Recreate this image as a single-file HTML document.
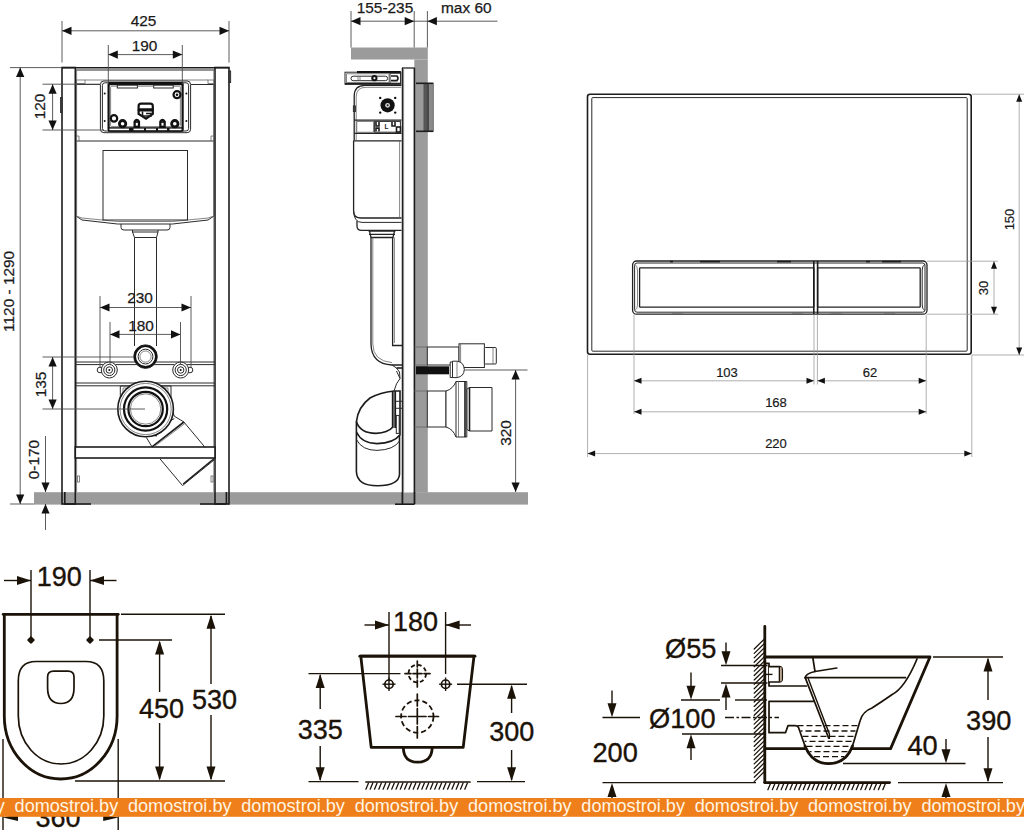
<!DOCTYPE html>
<html lang="en">
<head>
<meta charset="utf-8">
<title>Installation dimensions</title>
<style>
html,body{margin:0;padding:0;background:#fff;}
body{width:1024px;height:830px;overflow:hidden;font-family:"Liberation Sans",sans-serif;}
svg{display:block;}
.t{fill:none;stroke:#2a2a2a;stroke-width:1;}
.t2{fill:none;stroke:#1c1c1c;stroke-width:1.6;}
.t3{fill:none;stroke:#111;stroke-width:2.2;}
.tl{fill:none;stroke:#666;stroke-width:.8;}
.tm{fill:none;stroke:#222;stroke-width:1.3;}
.twm{fill:#fff;stroke:#222;stroke-width:1.3;}
.tw{fill:#fff;stroke:#2a2a2a;stroke-width:1;}
.tw2{fill:#fff;stroke:#1c1c1c;stroke-width:1.6;}
.d{fill:none;stroke:#4a4a4a;stroke-width:.9;}
.g{fill:none;stroke:#9a9a9a;stroke-width:.8;}
.gy{fill:#9b9b9b;stroke:none;}
.ah{fill:#111;stroke:none;}
.b{fill:none;stroke:#1b1208;stroke-width:2.8;stroke-linejoin:round;stroke-linecap:round;}
.b2{fill:none;stroke:#1b1208;stroke-width:1.7;stroke-linecap:round;stroke-linejoin:round;}
.b1{fill:none;stroke:#1b1208;stroke-width:1.4;}
.bd{fill:none;stroke:#1b1208;stroke-width:1.8;stroke-dasharray:5.2 2.9;}
.bf{fill:#1b1208;stroke:none;}
.n{font-family:"Liberation Sans",sans-serif;font-size:15.4px;fill:#1a1a1a;stroke:#1a1a1a;stroke-width:.25;}
.ns{font-family:"Liberation Sans",sans-serif;font-size:13px;fill:#1a1a1a;stroke:#1a1a1a;stroke-width:.2;}
.nb{font-family:"Liberation Sans",sans-serif;font-size:27px;fill:#1b1208;stroke:#1b1208;stroke-width:.35;}
.nm{font-family:"Liberation Sans",sans-serif;font-size:27.2px;fill:#1b1208;stroke:#1b1208;stroke-width:.35;}
.wm{font-family:"Liberation Sans",sans-serif;font-size:18.1px;fill:#fff5e4;}
</style>
</head>
<body>
<svg width="1024" height="830" viewBox="0 0 1024 830">
<rect x="0" y="0" width="1024" height="830" fill="#ffffff"/>
<g id="front-view">
<rect class="gy" x="34" y="492.2" width="494" height="12.4"/>
<path class="t" d="M76 84 V216 L82 220 L117.5 224 H172.5 L208 220 L214 216 V84"/>
<line class="t" x1="76" y1="141" x2="214" y2="141"/>
<line class="t" x1="76" y1="84.5" x2="100" y2="84.5"/>
<line class="t" x1="191" y1="84.5" x2="214" y2="84.5"/>
<line class="tl" x1="85" y1="80" x2="208" y2="80"/>
<path class="tl" d="M76 136 h3 v5 M214 136 h-3 v5"/>
<rect class="tl" x="76.5" y="80" width="8.5" height="3.5"/>
<rect class="tl" x="208" y="80" width="6" height="3.5"/>
<path class="tl" d="M76 216 L82 218 L117.5 221.5 H172.5 L208 218 L214 216"/>
<rect class="t" x="103" y="150.5" width="84.5" height="69.5"/>
<path class="t" d="M121 224 V227.5 Q121 230 124 230 H167 Q170 230 170 227.5 V224"/>
<path class="t" d="M132.5 230 V232 H158 V230 M132.5 232 L134.5 237.5 H156.5 L158 232"/>
<line class="t" x1="134.5" y1="237.5" x2="134.5" y2="346"/>
<line class="t" x1="156.5" y1="237.5" x2="156.5" y2="346"/>
<rect class="tw" x="100.4" y="81" width="90.2" height="51.7" rx="3.5"/>
<rect class="t" x="102.4" y="82.8" width="86.2" height="48.2" rx="2.5"/>
<rect class="t3" x="108.6" y="83.3" width="74" height="47.3" rx="1.5"/>
<rect class="ah" x="108" y="82" width="75.2" height="3.2"/>
<rect class="ah" x="108" y="127.2" width="75.2" height="4.4"/>
<rect class="gy" x="109.5" y="128.6" width="19.5" height="1.6" style="fill:#fff"/>
<rect class="gy" x="133.5" y="128.6" width="10.5" height="1.6" style="fill:#fff"/>
<rect class="gy" x="146" y="128.6" width="10" height="1.6" style="fill:#fff"/>
<rect class="gy" x="158" y="128.6" width="9" height="1.6" style="fill:#fff"/>
<rect class="gy" x="169.5" y="128.6" width="12" height="1.6" style="fill:#fff"/>
<rect class="tl" x="110.6" y="86.2" width="69.8" height="40.4" rx="1"/>
<rect class="tw" x="117.3" y="85.2" width="20.1" height="2.8"/>
<rect class="tw" x="153.7" y="85.2" width="19.5" height="2.8"/>
<circle class="ah" cx="104.7" cy="93.6" r="1"/>
<circle class="ah" cx="104.7" cy="121" r="1"/>
<circle class="ah" cx="186.4" cy="93.6" r="1"/>
<circle class="ah" cx="186.4" cy="121" r="1"/>
<circle class="t3" cx="177" cy="94.7" r="3.5"/>
<circle class="ah" cx="177" cy="94.7" r="1.3"/>
<circle class="t3" cx="114" cy="118.4" r="3.2"/>
<circle class="t3" cx="122.6" cy="123.7" r="3.2" style="stroke-width:2.8"/>
<circle class="t3" cx="174.8" cy="123.7" r="3.2" style="stroke-width:2.8"/>
<path class="t3" d="M134.6 127 v-5.5 q2.2 -3.4 4.4 0 v5.5 z" style="fill:#333"/>
<rect class="gy" x="135.8" y="123" width="2" height="2.6" style="fill:#fff"/>
<path class="t3" d="M160.3 127 v-5.5 q2.2 -3.4 4.4 0 v5.5 z" style="fill:#333"/>
<rect class="gy" x="161.5" y="123" width="2" height="2.6" style="fill:#fff"/>
<path class="t3" d="M138.6 114 V106 Q138.6 103.6 141 103.6 H150.4 Q152.8 103.6 152.8 106 V114 L146 118.6 Z" style="fill:#fff"/>
<rect class="ah" x="137.8" y="108.3" width="15.8" height="3.3" rx="1"/>
<path class="t2" d="M142.5 111.6 V116 H151 V113.5 H146"/>
<rect class="t2" x="62" y="67.5" width="13.3" height="436.5"/>
<rect class="t2" x="215" y="67.5" width="14" height="436.5"/>
<line class="t2" x1="62" y1="67.8" x2="229" y2="67.8"/>
<line class="t" x1="75.3" y1="70" x2="215" y2="70"/>
<line class="tl" x1="76.6" y1="70" x2="76.6" y2="492"/>
<line class="tl" x1="213.8" y1="70" x2="213.8" y2="492"/>
<rect class="t" x="229" y="71" width="1.6" height="11.5"/>
<rect class="t" x="60.6" y="97.5" width="1.4" height="15"/>
<line class="t" x1="75.3" y1="362" x2="215" y2="362"/>
<line class="t" x1="75.3" y1="364.6" x2="215" y2="364.6"/>
<line class="t" x1="75.3" y1="383" x2="215" y2="383"/>
<line class="t" x1="75.3" y1="385.8" x2="215" y2="385.8"/>
<rect class="tw2" x="75.3" y="447" width="139.7" height="11"/>
<path class="t" d="M166 392 L174.3 416.2 L183.9 422 L205.1 447.4"/>
<path class="t" d="M146.3 437.4 L152 446.8"/>
<path class="t2" d="M152 446.8 L183.9 422"/>
<path class="tl" d="M154 446.8 L185 423.4"/>
<path class="t" d="M156 436.6 Q160 425 174.3 418.5"/>
<path class="t" d="M159.8 458.6 L182.5 485.6 L214.8 459.4"/>
<path class="t2" d="M183.2 484 L213.6 459"/>
<path class="t" d="M120.3 409 V386 H171 V409"/>
<path class="tl" d="M123 400 V388 H168 V400"/>
<circle class="tw2" cx="145.6" cy="409" r="27.8"/>
<circle class="tl" cx="145.6" cy="409" r="25.6"/>
<circle class="t3" cx="145.6" cy="409" r="21.6"/>
<circle class="t3" cx="145.6" cy="409" r="17.2"/>
<circle class="tl" cx="145.6" cy="409" r="15.2"/>
<circle class="tw" cx="100" cy="370" r="2.8"/>
<circle class="tw" cx="109.3" cy="370" r="8"/>
<circle class="t" cx="109.3" cy="370" r="5.6"/>
<circle class="t" cx="109.3" cy="370" r="3.2"/>
<circle class="ah" cx="109.3" cy="370" r="1"/>
<circle class="tw" cx="190" cy="370" r="2.8"/>
<circle class="tw" cx="180.7" cy="370" r="8"/>
<circle class="t" cx="180.7" cy="370" r="5.6"/>
<circle class="t" cx="180.7" cy="370" r="3.2"/>
<circle class="ah" cx="180.7" cy="370" r="1"/>
<circle class="tw" cx="145.5" cy="356.6" r="11.8"/>
<circle class="t3" cx="145.5" cy="356.6" r="10.6"/>
<circle class="t" cx="145.5" cy="356.6" r="7.4"/>
<circle class="tl" cx="145.5" cy="356.6" r="5.6"/>
<line class="t2" x1="64" y1="504" x2="91" y2="504"/>
<line class="t2" x1="200" y1="504" x2="226" y2="504"/>
<path class="t2" d="M64.8 492 V504 M226.4 492 V504"/>
<rect class="tl" x="77.5" y="476" width="2" height="6"/>
<rect class="tl" x="211" y="476" width="2" height="6"/>
<line class="d" x1="62" y1="21" x2="62" y2="62.5"/>
<line class="d" x1="229" y1="21" x2="229" y2="62.5"/>
<line class="d" x1="62" y1="30.8" x2="229" y2="30.8"/>
<polygon class="ah" points="62,30.8 71.5,26.7 71.5,34.9"/>
<polygon class="ah" points="229,30.8 219.5,26.7 219.5,34.9"/>
<text class="n" x="143.5" y="26.3" text-anchor="middle">425</text>
<line class="d" x1="108.3" y1="45" x2="108.3" y2="84"/>
<line class="d" x1="182.3" y1="45" x2="182.3" y2="84"/>
<line class="d" x1="108.3" y1="54.6" x2="182.3" y2="54.6"/>
<polygon class="ah" points="108.3,54.6 117.8,50.5 117.8,58.7"/>
<polygon class="ah" points="182.3,54.6 172.8,50.5 172.8,58.7"/>
<text class="n" x="144.6" y="51" text-anchor="middle">190</text>
<line class="d" x1="42.5" y1="84.2" x2="100" y2="84.2"/>
<line class="d" x1="42.5" y1="130" x2="104" y2="130"/>
<line class="d" x1="52.6" y1="84.2" x2="52.6" y2="130"/>
<polygon class="ah" points="52.6,84.2 48.5,93.7 56.7,93.7"/>
<polygon class="ah" points="52.6,130 48.5,120.5 56.7,120.5"/>
<text class="n" x="45.4" y="106.5" text-anchor="middle" transform="rotate(-90 45.4 106.5)">120</text>
<line class="d" x1="10" y1="67.6" x2="62" y2="67.6"/>
<line class="d" x1="10" y1="504" x2="34" y2="504"/>
<line class="d" x1="20.2" y1="67.6" x2="20.2" y2="504"/>
<polygon class="ah" points="20.2,67.6 16.1,77.1 24.3,77.1"/>
<polygon class="ah" points="20.2,504 16.1,494.5 24.3,494.5"/>
<text class="n" x="14.4" y="291.4" text-anchor="middle" transform="rotate(-90 14.4 291.4)">1120 - 1290</text>
<line class="d" x1="100" y1="296" x2="100" y2="368"/>
<line class="d" x1="191" y1="296" x2="191" y2="368"/>
<line class="d" x1="100" y1="307.5" x2="191" y2="307.5"/>
<polygon class="ah" points="100,307.5 109.5,303.4 109.5,311.6"/>
<polygon class="ah" points="191,307.5 181.5,303.4 181.5,311.6"/>
<text class="n" x="140" y="303.2" text-anchor="middle">230</text>
<line class="d" x1="110" y1="322" x2="110" y2="364"/>
<line class="d" x1="180.5" y1="322" x2="180.5" y2="364"/>
<line class="d" x1="110" y1="334.4" x2="180.5" y2="334.4"/>
<polygon class="ah" points="110,334.4 119.5,330.3 119.5,338.5"/>
<polygon class="ah" points="180.5,334.4 171,330.3 171,338.5"/>
<text class="n" x="141" y="331" text-anchor="middle">180</text>
<line class="d" x1="42.5" y1="357" x2="133" y2="357"/>
<line class="d" x1="42.5" y1="409" x2="145" y2="409"/>
<line class="d" x1="52.6" y1="357" x2="52.6" y2="409"/>
<polygon class="ah" points="52.6,357 48.5,366.5 56.7,366.5"/>
<polygon class="ah" points="52.6,409 48.5,399.5 56.7,399.5"/>
<text class="n" x="45.8" y="384.5" text-anchor="middle" transform="rotate(-90 45.8 384.5)">135</text>
<line class="d" x1="45.5" y1="436" x2="45.5" y2="492"/>
<polygon class="ah" points="45.5,492 41.4,482.5 49.6,482.5"/>
<line class="d" x1="45.5" y1="504" x2="45.5" y2="530"/>
<polygon class="ah" points="45.5,504 41.4,513.5 49.6,513.5"/>
<text class="n" x="38.8" y="459.5" text-anchor="middle" transform="rotate(-90 38.8 459.5)">0-170</text>
</g>
<g id="side-view">
<rect class="gy" x="351" y="47.5" width="76.8" height="12"/>
<rect class="gy" x="414.3" y="59.5" width="13.5" height="433"/>
<rect class="gy" x="423.5" y="83.3" width="4.5" height="48" style="fill:#555"/>
<rect class="gy" x="428" y="83.3" width="5.4" height="48" style="fill:#8a8a8a"/>
<line class="t2" x1="416" y1="83.3" x2="433.4" y2="83.3"/>
<line class="t2" x1="416" y1="131.3" x2="433.4" y2="131.3"/>
<line class="t" x1="428.2" y1="83.3" x2="428.2" y2="131.3"/>
<line class="tl" x1="433.4" y1="83.3" x2="433.4" y2="131.3"/>
<path class="twm" d="M353.6 140.8 V211 Q353.6 218 361 218 H401.5"/>
<path class="t" d="M353.6 211 Q354 222.4 362 222.4 H401.5"/>
<path class="tm" d="M357 221 V226 Q357 230.4 361.5 230.4 H401.5"/>
<path class="tm" d="M353.6 140.8 H401.5"/>
<line class="tl" x1="399.6" y1="141" x2="399.6" y2="218"/>
<path class="tm" d="M368.5 231.2 H395.5 M369.5 231.2 L371 237.5 H393 L394.5 231.2 M369 234.4 H395"/>
<path class="tm" d="M371 237.5 V344 Q371.5 364 392 365 H402"/>
<path class="tl" d="M372.8 237.5 V344 Q373 361 392 362.6"/>
<path class="tm" d="M392.6 237.5 V345.5 H402"/>
<path class="tl" d="M394.4 237.5 V343"/>
<path class="t" d="M392 365 L396.5 368 L399.5 372 L400 378.5"/>
<path class="t2" d="M396.5 368 H402"/>
<path class="twm" d="M354.2 140.8 V96 Q354.2 85.3 365 85.3 H401.5"/>
<path class="tl" d="M356.2 140 V97 Q356.2 87.3 366 87.3 H401"/>
<line class="tm" x1="354.2" y1="120.2" x2="401.5" y2="120.2"/>
<rect class="tl" x="356.8" y="121.4" width="16.8" height="10.8"/>
<rect class="t" x="374.6" y="121.4" width="25.8" height="10.8"/>
<path class="t2" d="M376 122 v4 h3 v-4 M376 131.6 v-3.5 h3 v3.5 M392 122 v4 h3 v-4"/>
<rect class="t2" x="396.5" y="127" width="4" height="5"/>
<line class="tm" x1="354.2" y1="133.4" x2="401.5" y2="133.4"/>
<rect class="t" x="353.4" y="106" width="2" height="5.5"/>
<circle class="ah" cx="380.2" cy="97.9" r="1.2"/>
<circle class="ah" cx="395.2" cy="97.9" r="1.2"/>
<circle class="ah" cx="380.2" cy="112.6" r="1.2"/>
<circle class="ah" cx="395.2" cy="112.6" r="1.2"/>
<circle class="ah" cx="387.6" cy="105.3" r="7.1"/>
<circle class="gy" cx="387.6" cy="105.3" r="2.4" style="fill:#ddd"/>
<circle class="ah" cx="387.6" cy="105.3" r="1"/>
<text class="n" x="386.6" y="129.2" text-anchor="middle" style="font-size:6.5px;font-weight:bold;stroke:none">L</text>
<rect class="tw" x="345" y="72.2" width="55.8" height="12.1"/>
<line class="t3" x1="357" y1="72.2" x2="400.8" y2="72.2"/>
<line class="t2" x1="345" y1="83.8" x2="400.8" y2="83.8"/>
<rect class="tl" x="346.6" y="73.8" width="42.4" height="8.8"/>
<rect class="t" x="351" y="76.2" width="36.6" height="4.5" rx="2.2"/>
<path class="tl" d="M358 76.2 V80.7 M360 76.2 V80.7"/>
<rect class="t" x="390" y="73.2" width="10.6" height="10"/>
<path class="t2" d="M391 76 H397 Q399 78.2 397 80.6 H391"/>
<circle class="ah" cx="374.4" cy="78.2" r="3.1"/>
<circle class="gy" cx="374.4" cy="78.2" r="1.1" style="fill:#eee"/>
<rect class="tw" x="402.4" y="68" width="12" height="436" style="stroke:none"/>
<line class="tm" x1="402.4" y1="67.8" x2="402.4" y2="504"/>
<line class="t2" x1="414.4" y1="67.8" x2="414.4" y2="504"/>
<line class="tm" x1="402" y1="68" x2="414.4" y2="68"/>
<line class="tl" x1="403.6" y1="69" x2="403.6" y2="492"/>
<rect class="gy" x="402" y="492.5" width="12.3" height="12.1"/>
<path class="t2" d="M402.5 492 V504 M414.4 492 V504"/>
<line class="t2" x1="395" y1="504.2" x2="414.6" y2="504.2"/>
<path class="tw2" d="M394 391 Q380 392.5 370 398 Q358 407 356.4 421.6 V471.5 Q357 485.8 377.5 485.8 Q398.8 485.4 399.5 474.5 V435.5 L400 435 V391 Z"/>
<path class="t2" d="M356.4 421.6 Q360 433.4 376 433.4 Q388 432.6 392.4 427.5"/>
<path class="t2" d="M356.4 432 Q362 443.6 377 443.6 Q394 443 399.8 435"/>
<path class="t" d="M356.4 439.5 Q362 450.4 377 450.4 Q394 449.8 399.5 441"/>
<path class="t2" d="M392.6 391 V428 M395.3 391 V428"/>
<line class="t" x1="394" y1="391" x2="394" y2="428"/>
<rect class="t" x="396.3" y="415.4" width="2.9" height="18"/>
<path class="t" d="M396 401.3 H402 M396 408.3 H402"/>
<path class="t" d="M394 391 Q396 383 400 378.5 L396.5 371"/>
<rect class="tw" x="427.3" y="347" width="31.7" height="18"/>
<line class="tl" x1="414.3" y1="347" x2="427.3" y2="347"/>
<line class="tl" x1="414.3" y1="365" x2="427.3" y2="365"/>
<rect class="tw" x="459" y="343.8" width="25.4" height="23.7"/>
<rect class="tw" x="484.4" y="347.5" width="11.9" height="16.5" rx="1"/>
<line class="tl" x1="493" y1="347.5" x2="493" y2="364"/>
<line class="tl" x1="460.6" y1="344" x2="460.6" y2="367.5"/>
<rect class="ah" x="416" y="366.3" width="33" height="8"/>
<path class="tw" d="M450.2 362 H452.5 V377.5 H450.2 Z"/>
<path class="tw" d="M452.5 361.2 H457 Q464 362 464.3 369.5 Q464 376.5 457 377.6 H452.5 Z"/>
<line class="tl" x1="457" y1="361.5" x2="457" y2="377.3"/>
<rect class="tw" x="427.3" y="391" width="18.7" height="36"/>
<line class="tl" x1="414.3" y1="391" x2="427.3" y2="391"/>
<line class="tl" x1="414.3" y1="427" x2="427.3" y2="427"/>
<path class="tw" d="M446 391 Q453 389 456 381.5 H466.8 V437 H456 Q453 429 446 427 Z"/>
<line class="t" x1="456" y1="381.5" x2="456" y2="437"/>
<line class="tl" x1="458.5" y1="381.5" x2="458.5" y2="437"/>
<line class="t2" x1="465" y1="381.5" x2="465" y2="437"/>
<path class="tw" d="M467 389 L469.5 387.5 H492 V431 H469.5 L467 429.5 Z"/>
<line class="t2" x1="469.5" y1="387.5" x2="469.5" y2="431"/>
<line class="d" x1="351" y1="11" x2="351" y2="47.5"/>
<line class="d" x1="414.2" y1="11" x2="414.2" y2="47.5"/>
<line class="d" x1="427.4" y1="11" x2="427.4" y2="47.5"/>
<line class="d" x1="351" y1="21.2" x2="414.2" y2="21.2"/>
<polygon class="ah" points="351,21.2 360.5,17.1 360.5,25.3"/>
<polygon class="ah" points="414.2,21.2 404.7,17.1 404.7,25.3"/>
<line class="d" x1="414.2" y1="21.2" x2="497.5" y2="21.2"/>
<polygon class="ah" points="427.4,21.2 436.9,17.1 436.9,25.3"/>
<text class="n" x="385" y="12.6" text-anchor="middle">155-235</text>
<text class="n" x="466.3" y="12.6" text-anchor="middle">max 60</text>
<line class="d" x1="464.5" y1="370" x2="527.5" y2="370"/>
<line class="d" x1="515.6" y1="370" x2="515.6" y2="492"/>
<polygon class="ah" points="515.6,370 511.5,379.5 519.7,379.5"/>
<polygon class="ah" points="515.6,492 511.5,482.5 519.7,482.5"/>
<text class="n" x="510.8" y="433" text-anchor="middle" transform="rotate(-90 510.8 433)">320</text>
</g>
<g id="flush-plate">
<rect class="t2" x="587.5" y="94.2" width="383.7" height="260.1" rx="2.5"/>
<rect class="t" x="591.8" y="97.6" width="375.4" height="253.6" rx="1"/>
<rect class="tm" x="632.6" y="261" width="294.4" height="53.2" rx="4"/>
<rect class="t" x="634.6" y="263" width="290.4" height="49.2" rx="2.5"/>
<rect class="tm" x="639.6" y="267.8" width="174.2" height="39.4" rx="0.5"/>
<rect class="tm" x="817.6" y="267.8" width="102.6" height="39.4" rx="0.5"/>
<line class="t2" x1="813.8" y1="261" x2="813.8" y2="314.2"/>
<line class="t2" x1="817.6" y1="261" x2="817.6" y2="314.2"/>
<path class="tl" d="M634.8 264.5 Q637.5 266 637.5 270 V305 Q637.5 309 634.8 310.5"/>
<path class="t" d="M924.8 264.5 Q922.2 266 922.2 270 V305 Q922.2 309 924.8 310.5"/>
<line class="t2" x1="670" y1="261.6" x2="673" y2="261.6"/>
<line class="t2" x1="700" y1="261.6" x2="720" y2="261.6"/>
<line class="t2" x1="777" y1="261.6" x2="791" y2="261.6"/>
<line class="t2" x1="866" y1="261.6" x2="870" y2="261.6"/>
<line class="t2" x1="882" y1="261.6" x2="901" y2="261.6"/>
<line class="tl" x1="672" y1="313.2" x2="683" y2="313.2"/>
<line class="tl" x1="792" y1="313.2" x2="803" y2="313.2"/>
<line class="tl" x1="830" y1="313.2" x2="842" y2="313.2"/>
<line class="tl" x1="884" y1="313.2" x2="895" y2="313.2"/>
<line class="g" x1="634" y1="314.5" x2="634" y2="414"/>
<line class="g" x1="814" y1="314.5" x2="814" y2="384.5"/>
<line class="g" x1="817.4" y1="314.5" x2="817.4" y2="384.5"/>
<line class="g" x1="926.2" y1="314.5" x2="926.2" y2="414"/>
<line class="g" x1="634" y1="380.8" x2="814" y2="380.8"/>
<polygon class="ah" points="634,380.8 641.5,377.8 641.5,383.8"/>
<polygon class="ah" points="814,380.8 806.5,377.8 806.5,383.8"/>
<line class="g" x1="817.4" y1="380.8" x2="926.2" y2="380.8"/>
<polygon class="ah" points="817.4,380.8 824.9,377.8 824.9,383.8"/>
<polygon class="ah" points="926.2,380.8 918.7,377.8 918.7,383.8"/>
<text class="ns" x="727" y="377" text-anchor="middle">103</text>
<text class="ns" x="870" y="377" text-anchor="middle">62</text>
<line class="g" x1="634" y1="411.8" x2="926.2" y2="411.8"/>
<polygon class="ah" points="634,411.8 641.5,408.8 641.5,414.8"/>
<polygon class="ah" points="926.2,411.8 918.7,408.8 918.7,414.8"/>
<text class="ns" x="776" y="407.3" text-anchor="middle">168</text>
<line class="g" x1="587.6" y1="355" x2="587.6" y2="457"/>
<line class="g" x1="971.8" y1="355" x2="971.8" y2="457"/>
<line class="g" x1="587.6" y1="453.6" x2="971.8" y2="453.6"/>
<polygon class="ah" points="587.6,453.6 595.1,450.6 595.1,456.6"/>
<polygon class="ah" points="971.8,453.6 964.3,450.6 964.3,456.6"/>
<text class="ns" x="776" y="448.2" text-anchor="middle">220</text>
<line class="g" x1="927" y1="261.2" x2="998" y2="261.2"/>
<line class="g" x1="927" y1="314.2" x2="998" y2="314.2"/>
<line class="g" x1="994" y1="261.2" x2="994" y2="314.2"/>
<polygon class="ah" points="994,261.2 991,268.7 997,268.7"/>
<polygon class="ah" points="994,314.2 991,306.7 997,306.7"/>
<text class="ns" x="988.4" y="288" text-anchor="middle" transform="rotate(-90 988.4 288)">30</text>
<line class="g" x1="972" y1="94.2" x2="1024" y2="94.2"/>
<line class="g" x1="972" y1="355" x2="1024" y2="355"/>
<line class="g" x1="1019.2" y1="94.2" x2="1019.2" y2="355"/>
<polygon class="ah" points="1019.2,94.2 1016.2,101.7 1022.2,101.7"/>
<polygon class="ah" points="1019.2,355 1016.2,347.5 1022.2,347.5"/>
<text class="ns" x="1013.6" y="219.5" text-anchor="middle" transform="rotate(-90 1013.6 219.5)">150</text>
</g>
<g id="top-view">
<path class="b" d="M4.3 614.3 V716 A56.4 63 0 0 0 117.1 716 V614.3"/>
<line class="b" x1="3.2" y1="614.3" x2="118.2" y2="614.3"/>
<path class="b2" d="M18.3 716 V681 Q18.3 661.5 36 661.5 H86 Q103.8 661.5 103.8 681 V716 A42.75 48 0 0 1 18.3 716 Z"/>
<path class="b2" d="M47.6 688 V677 Q47.6 671.2 53.5 671.2 H68 Q74 671.2 74 677 V688 Q74 703.5 60.8 703.5 Q47.6 703.5 47.6 688 Z"/>
<polygon class="bf" points="27,640 31,636 35,640 31,644"/>
<circle class="bf" cx="31" cy="640" r="2.6"/>
<polygon class="bf" points="86,640 90,636 94,640 90,644"/>
<circle class="bf" cx="90" cy="640" r="2.6"/>
<line class="b1" x1="31" y1="570" x2="31" y2="637"/>
<line class="b1" x1="90" y1="570" x2="90" y2="637"/>
<line class="b1" x1="4" y1="580.5" x2="31" y2="580.5"/>
<polygon class="bf" points="31,580.5 17,576 17,585"/>
<line class="b1" x1="90" y1="580.5" x2="116.5" y2="580.5"/>
<polygon class="bf" points="90,580.5 104,576 104,585"/>
<text class="nb" x="59.3" y="586.2" text-anchor="middle">190</text>
<line class="b1" x1="121" y1="614.3" x2="225" y2="614.3"/>
<line class="b1" x1="75" y1="781" x2="225" y2="781"/>
<line class="b1" x1="211" y1="616" x2="211" y2="684"/>
<polygon class="bf" points="211,614.8 206.5,628.8 215.5,628.8"/>
<line class="b1" x1="211" y1="715" x2="211" y2="779"/>
<polygon class="bf" points="211,780.5 206.5,766.5 215.5,766.5"/>
<text class="nb" x="214.6" y="709" text-anchor="middle">530</text>
<line class="b1" x1="99" y1="640" x2="172" y2="640"/>
<line class="b1" x1="159.6" y1="642" x2="159.6" y2="692"/>
<polygon class="bf" points="159.6,640.5 155.1,654.5 164.1,654.5"/>
<line class="b1" x1="159.6" y1="723" x2="159.6" y2="779"/>
<polygon class="bf" points="159.6,780.5 155.1,766.5 164.1,766.5"/>
<text class="nb" x="161.5" y="717.6" text-anchor="middle">450</text>
<line class="b1" x1="3" y1="739" x2="3" y2="830"/>
<line class="b1" x1="118.2" y1="739" x2="118.2" y2="830"/>
<polygon class="bf" points="3,817.4 18,813.8 18,821"/>
<polygon class="bf" points="118.2,817.4 103.2,813.8 103.2,821"/>
<text class="nb" x="58" y="826.5" text-anchor="middle">360</text>
</g>
<g id="back-view">
<path class="b" d="M360.8 656.2 H474 L463.2 747.3 H371.2 Z"/>
<line class="b" x1="359.8" y1="656.2" x2="475" y2="656.2"/>
<path class="b" d="M403.3 748 Q404 762.2 417.5 762.2 Q431.5 762.2 432.2 748"/>
<circle class="bd" cx="417.3" cy="673.6" r="8.8" style="stroke-dasharray:4.2 2.7"/>
<path class="b2" d="M417.3 661 V667 M417.3 669 V678 M417.3 680 V687"/>
<path class="b2" d="M405 673.6 H411 M413 673.6 H422 M424 673.6 H430"/>
<circle class="b2" cx="389" cy="684.2" r="4.2"/>
<line class="b1" x1="382.5" y1="684.2" x2="395.5" y2="684.2"/>
<line class="b1" x1="389" y1="677.5" x2="389" y2="691"/>
<circle class="b2" cx="445.6" cy="684.2" r="4.2"/>
<line class="b1" x1="439.1" y1="684.2" x2="452.1" y2="684.2"/>
<line class="b1" x1="445.6" y1="677.5" x2="445.6" y2="691"/>
<circle class="bd" cx="417.3" cy="716.5" r="16.2"/>
<path class="b2" d="M417.3 694 V706 M417.3 708.5 V724 M417.3 726.5 V738"/>
<path class="b2" d="M396 716.5 H406 M408.5 716.5 H426 M428.5 716.5 H438.5"/>
<line class="b1" x1="389" y1="612" x2="389" y2="680"/>
<line class="b1" x1="445.6" y1="612" x2="445.6" y2="674"/>
<line class="b1" x1="364.5" y1="625" x2="389" y2="625"/>
<polygon class="bf" points="389,625 375,620.5 375,629.5"/>
<line class="b1" x1="445.6" y1="625" x2="471" y2="625"/>
<polygon class="bf" points="445.6,625 459.6,620.5 459.6,629.5"/>
<text class="nb" x="415.5" y="631.2" text-anchor="middle">180</text>
<line class="b1" x1="308.5" y1="673.6" x2="400.5" y2="673.6"/>
<line class="b1" x1="308.5" y1="781.6" x2="358.5" y2="781.6"/>
<line class="b1" x1="320.2" y1="675" x2="320.2" y2="709"/>
<polygon class="bf" points="320.2,674 315.7,688 324.7,688"/>
<line class="b1" x1="320.2" y1="746" x2="320.2" y2="780"/>
<polygon class="bf" points="320.2,781.2 315.7,767.2 324.7,767.2"/>
<text class="nb" x="320.3" y="738.6" text-anchor="middle">335</text>
<line class="b1" x1="457" y1="684.2" x2="527" y2="684.2"/>
<line class="b1" x1="477" y1="781.6" x2="525" y2="781.6"/>
<line class="b1" x1="511.6" y1="686" x2="511.6" y2="713"/>
<polygon class="bf" points="511.6,684.8 507.1,698.8 516.1,698.8"/>
<line class="b1" x1="511.6" y1="750" x2="511.6" y2="780"/>
<polygon class="bf" points="511.6,781.2 507.1,767.2 516.1,767.2"/>
<text class="nb" x="511.8" y="741.2" text-anchor="middle">300</text>
<line class="b2" x1="366" y1="782" x2="470" y2="782"/>
<path class="b2" d="M368.5 783 l-2.6 6.2 M372.8 783 l-2.6 6.2 M377.1 783 l-2.6 6.2 M381.4 783 l-2.6 6.2 M385.7 783 l-2.6 6.2 M390 783 l-2.6 6.2 M394.3 783 l-2.6 6.2 M398.6 783 l-2.6 6.2 M402.9 783 l-2.6 6.2 M407.2 783 l-2.6 6.2 M411.5 783 l-2.6 6.2 M415.8 783 l-2.6 6.2 M420.1 783 l-2.6 6.2 M424.4 783 l-2.6 6.2 M428.7 783 l-2.6 6.2 M433 783 l-2.6 6.2 M437.3 783 l-2.6 6.2 M441.6 783 l-2.6 6.2 M445.9 783 l-2.6 6.2 M450.2 783 l-2.6 6.2 M454.5 783 l-2.6 6.2 M458.8 783 l-2.6 6.2 M463.1 783 l-2.6 6.2 M467.4 783 l-2.6 6.2 " style="stroke-width:1.3"/>
</g>
<g id="section-view">
<line class="b" x1="764.8" y1="626.5" x2="764.8" y2="782.6"/>
<path class="b2" d="M754.2 649 l10 -9.8 M754.2 653.42 l10 -9.8 M754.2 657.84 l10 -9.8 M754.2 662.26 l10 -9.8 M754.2 666.68 l10 -9.8 M754.2 671.1 l10 -9.8 M754.2 675.52 l10 -9.8 M754.2 679.94 l10 -9.8 M754.2 684.36 l10 -9.8 M754.2 688.78 l10 -9.8 M754.2 693.2 l10 -9.8 M754.2 697.62 l10 -9.8 M754.2 702.04 l10 -9.8 M754.2 706.46 l10 -9.8 M754.2 710.88 l10 -9.8 M754.2 715.3 l10 -9.8 M754.2 719.72 l10 -9.8 M754.2 724.14 l10 -9.8 M754.2 728.56 l10 -9.8 M754.2 732.98 l10 -9.8 M754.2 737.4 l10 -9.8 M754.2 741.82 l10 -9.8 M754.2 746.24 l10 -9.8 M754.2 750.66 l10 -9.8 M754.2 755.08 l10 -9.8 M754.2 759.5 l10 -9.8 M754.2 763.92 l10 -9.8 M754.2 768.34 l10 -9.8 M754.2 772.76 l10 -9.8 M754.2 777.18 l10 -9.8 M754.2 781.6 l10 -9.8 " style="stroke-width:1.25"/>
<line class="b" x1="764.8" y1="782.6" x2="889.6" y2="782.6"/>
<path class="b2" d="M770.5 783.5 l-2.6 6.2 M774.92 783.5 l-2.6 6.2 M779.34 783.5 l-2.6 6.2 M783.76 783.5 l-2.6 6.2 M788.18 783.5 l-2.6 6.2 M792.6 783.5 l-2.6 6.2 M797.02 783.5 l-2.6 6.2 M801.44 783.5 l-2.6 6.2 M805.86 783.5 l-2.6 6.2 M810.28 783.5 l-2.6 6.2 M814.7 783.5 l-2.6 6.2 M819.12 783.5 l-2.6 6.2 M823.54 783.5 l-2.6 6.2 M827.96 783.5 l-2.6 6.2 M832.38 783.5 l-2.6 6.2 M836.8 783.5 l-2.6 6.2 M841.22 783.5 l-2.6 6.2 M845.64 783.5 l-2.6 6.2 M850.06 783.5 l-2.6 6.2 M854.48 783.5 l-2.6 6.2 M858.9 783.5 l-2.6 6.2 M863.32 783.5 l-2.6 6.2 M867.74 783.5 l-2.6 6.2 M872.16 783.5 l-2.6 6.2 M876.58 783.5 l-2.6 6.2 M881 783.5 l-2.6 6.2 M885.42 783.5 l-2.6 6.2 " style="stroke-width:1.3"/>
<path class="b" d="M764.8 657 H930 L890.6 748.6 H852"/>
<path class="b" d="M764.8 748.6 H805"/>
<path class="b2" d="M917 659 Q905 688 891.8 694.8 Q880 703 872 708 Q862.5 711.5 860 721 L852.5 746 Q846 763.6 828.5 763.6 Q812 763.6 805 746 L798.5 727.5 Q797.5 725.6 795 725.6 H788 L785.5 732.7 H769 V701.3 H813.5"/>
<path class="b" d="M852.5 746 Q846 763.6 828.5 763.6 Q812 763.6 805 746"/>
<path class="b2" d="M805.2 677.6 L828.6 738"/>
<path class="b1" d="M808 678 L829.4 734 V739"/>
<line class="b2" x1="805.2" y1="677.6" x2="905.5" y2="677.6"/>
<path class="b2" d="M812.8 657.5 L815 671.5 L836.8 668"/>
<path class="b2" d="M815 671.5 Q806 673.5 805.2 677.6"/>
<path class="b2" d="M764.8 663.4 H769 V686 H806.5"/>
<path class="b2" d="M769 666.6 H779 Q782.2 666.6 782.2 670 V678.5 Q782.2 682 779 682 H769" style="fill:#fff"/>
<rect class="gy" x="779.6" y="667.2" width="2" height="14.2" style="fill:#cdb9a0"/>
<line class="b1" x1="779.4" y1="667" x2="779.4" y2="681.6"/>
<line class="b1" x1="764.8" y1="674.4" x2="772.5" y2="674.4"/>
<line class="b1" x1="797.5" y1="725.6" x2="857.5" y2="725.6" stroke-dasharray="6 3" stroke-dashoffset="0"/>
<line class="b1" x1="800.5" y1="731" x2="855.5" y2="731" stroke-dasharray="6 3" stroke-dashoffset="4"/>
<line class="b1" x1="802.5" y1="736.4" x2="853.5" y2="736.4" stroke-dasharray="6 3" stroke-dashoffset="0"/>
<line class="b1" x1="804.5" y1="741.4" x2="852.5" y2="741.4" stroke-dasharray="6 3" stroke-dashoffset="4"/>
<line class="b1" x1="806.5" y1="746.4" x2="851" y2="746.4" stroke-dasharray="6 3" stroke-dashoffset="0"/>
<line class="b1" x1="809.5" y1="751.6" x2="848.5" y2="751.6" stroke-dasharray="6 3" stroke-dashoffset="4"/>
<line class="b1" x1="814" y1="756.6" x2="844" y2="756.6" stroke-dasharray="6 3" stroke-dashoffset="0"/>
<line class="b1" x1="725" y1="717.5" x2="779" y2="717.5" stroke-dasharray="9 2.5 2.5 2.5"/>
<text class="nm" x="665" y="657.6" text-anchor="start">&#216;55</text>
<line class="b1" x1="721" y1="665.5" x2="767.5" y2="665.5"/>
<line class="b1" x1="721" y1="683" x2="767.5" y2="683"/>
<line class="b1" x1="726" y1="642.5" x2="726" y2="655"/>
<polygon class="bf" points="726,665.2 721.5,651.2 730.5,651.2"/>
<line class="b1" x1="726" y1="694" x2="726" y2="710"/>
<polygon class="bf" points="726,683.4 721.5,697.4 730.5,697.4"/>
<text class="nm" x="649" y="727.6" text-anchor="start">&#216;100</text>
<line class="b1" x1="681" y1="700" x2="720" y2="700"/>
<line class="b1" x1="735" y1="700" x2="767" y2="700"/>
<line class="b1" x1="682" y1="734" x2="764.8" y2="734"/>
<line class="b1" x1="691" y1="672.5" x2="691" y2="689"/>
<polygon class="bf" points="691,699.8 686.5,685.8 695.5,685.8"/>
<line class="b1" x1="691" y1="745" x2="691" y2="760"/>
<polygon class="bf" points="691,734.3 686.5,748.3 695.5,748.3"/>
<line class="b1" x1="602.5" y1="717.5" x2="640" y2="717.5"/>
<line class="b1" x1="612" y1="690.5" x2="612" y2="706"/>
<polygon class="bf" points="612,717.2 607.5,703.2 616.5,703.2"/>
<text class="nm" x="615.2" y="762" text-anchor="middle">200</text>
<line class="b1" x1="602.5" y1="782.6" x2="756" y2="782.6"/>
<line class="b1" x1="612" y1="794" x2="612" y2="800"/>
<polygon class="bf" points="612,783 607.5,797 616.5,797"/>
<text class="nm" x="922.5" y="754.6" text-anchor="middle">40</text>
<line class="b1" x1="843" y1="763.5" x2="965.5" y2="763.5"/>
<line class="b1" x1="946" y1="739" x2="946" y2="752"/>
<polygon class="bf" points="946,763.2 941.5,749.2 950.5,749.2"/>
<line class="b1" x1="898" y1="782.6" x2="1003" y2="782.6"/>
<line class="b1" x1="946" y1="794" x2="946" y2="800"/>
<polygon class="bf" points="946,783 941.5,797 950.5,797"/>
<line class="b1" x1="933" y1="657" x2="1003" y2="657"/>
<line class="b1" x1="988" y1="659" x2="988" y2="700"/>
<polygon class="bf" points="988,657.6 983.5,671.6 992.5,671.6"/>
<line class="b1" x1="988" y1="737" x2="988" y2="781"/>
<polygon class="bf" points="988,782.2 983.5,768.2 992.5,768.2"/>
<text class="nm" x="988.8" y="730.2" text-anchor="middle">390</text>
</g>
<g id="watermark">
<rect class="gy" x="0" y="798" width="1024" height="18.8" style="fill:#ef7f1a"/>
<text class="wm" x="-98.75" y="812.4" text-anchor="start">domostroi.by</text>
<text class="wm" x="14.6" y="812.4" text-anchor="start">domostroi.by</text>
<text class="wm" x="127.95" y="812.4" text-anchor="start">domostroi.by</text>
<text class="wm" x="241.3" y="812.4" text-anchor="start">domostroi.by</text>
<text class="wm" x="354.65" y="812.4" text-anchor="start">domostroi.by</text>
<text class="wm" x="468" y="812.4" text-anchor="start">domostroi.by</text>
<text class="wm" x="581.35" y="812.4" text-anchor="start">domostroi.by</text>
<text class="wm" x="694.7" y="812.4" text-anchor="start">domostroi.by</text>
<text class="wm" x="808.05" y="812.4" text-anchor="start">domostroi.by</text>
<text class="wm" x="921.4" y="812.4" text-anchor="start">domostroi.by</text>
</g>
</svg>
</body>
</html>
